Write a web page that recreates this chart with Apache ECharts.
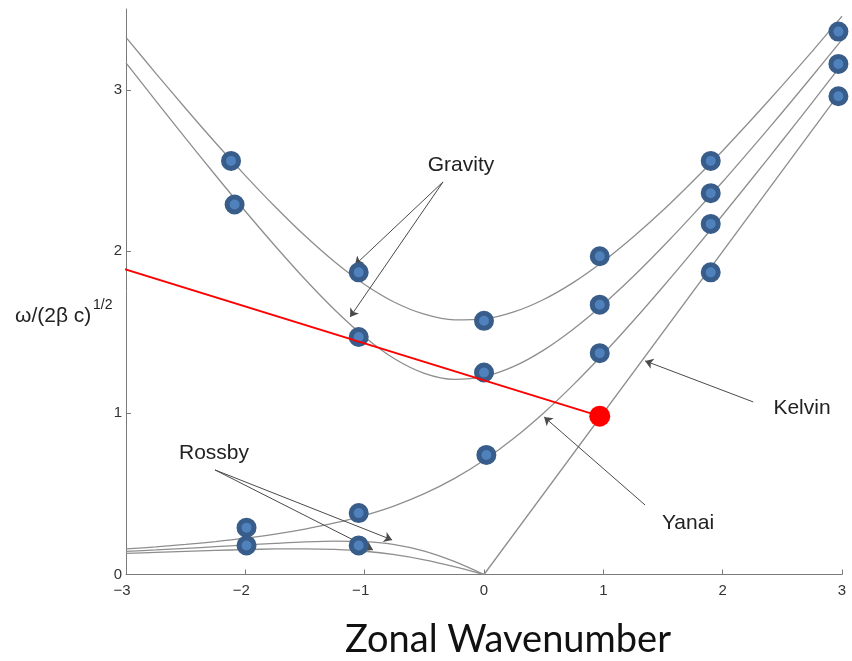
<!DOCTYPE html>
<html>
<head>
<meta charset="utf-8">
<script src="https://cdn.jsdelivr.net/npm/echarts@6/dist/echarts.min.js"></script>
<style>
  html, body { margin: 0; padding: 0; background: #ffffff; }
  #chart { width: 852px; height: 661px; }
</style>
</head>
<body>
<div id="chart"></div>
<script>
// Zonal wavenumber samples for the full curves and the westward (Rossby) branch
const kFull = [-3, -2.75, -2.5, -2.25, -2, -1.75, -1.5, -1.25, -1, -0.75, -0.5, -0.25,
               0, 0.25, 0.5, 0.75, 1, 1.25, 1.5, 1.75, 2, 2.25, 2.5, 2.75, 3];
const kWest = [-3, -2.75, -2.5, -2.25, -2, -1.75, -1.5, -1.25, -1, -0.75, -0.5, -0.25, 0];

// Frequency of each wave branch
const gravityN1 = [3.167, 2.931, 2.699, 2.471, 2.248, 2.033, 1.827, 1.637, 1.470, 1.335, 1.245, 1.208,
                   1.225, 1.288, 1.389, 1.520, 1.673, 1.844, 2.030, 2.226, 2.431, 2.644, 2.861, 3.084, 3.310];
const gravityN2 = [3.324, 3.102, 2.884, 2.672, 2.469, 2.276, 2.096, 1.934, 1.795, 1.685, 1.611, 1.576,
                   1.581, 1.625, 1.702, 1.808, 1.939, 2.089, 2.254, 2.434, 2.623, 2.822, 3.027, 3.238, 3.455];
const yanai     = [0.158, 0.171, 0.186, 0.204, 0.225, 0.250, 0.281, 0.319, 0.366, 0.425, 0.500, 0.593,
                   0.707, 0.843, 1.000, 1.175, 1.366, 1.569, 1.781, 2.000, 2.225, 2.454, 2.686, 2.921, 3.158];
const rossbyN1  = [0.143, 0.152, 0.162, 0.172, 0.183, 0.193, 0.202, 0.207, 0.203, 0.185, 0.145, 0.081, 0];
const rossbyN2  = [0.131, 0.137, 0.143, 0.149, 0.154, 0.158, 0.159, 0.155, 0.144, 0.123, 0.091, 0.049, 0];
const kelvinK   = [0, 3];
const kelvinW   = [0, 3];

// Highlighted sample points on the curves
const dotK = [-2.12, -2.09, -1.05, -1.05, -1.05, -1.05, -1.99, -1.99, 0.0, 0.0, 0.02,
              0.97, 0.97, 0.97, 1.90, 1.90, 1.90, 1.90, 2.97, 2.97, 2.97];
const dotW = [2.56, 2.29, 1.87, 1.47, 0.38, 0.18, 0.29, 0.18, 1.57, 1.25, 0.74,
              1.97, 1.67, 1.37, 2.56, 2.36, 2.17, 1.87, 3.36, 3.16, 2.96];

// Red marker and its leader line
const markK = [0.97];
const markW = [0.98];
const leaderK = [-4.06, 0.97];
const leaderW = [2.13, 0.98];

// Annotation arrows: [fromK, fromW, toK, toW]
const arrowGravity = [[-0.343, 2.430, -1.081, 1.916], [-0.343, 2.430, -1.122, 1.594]];
const arrowRossby  = [[-2.254, 0.647, -0.770, 0.214], [-2.254, 0.647, -0.930, 0.152]];
const arrowKelvin  = [[2.256, 1.068, 1.350, 1.322]];
const arrowYanai   = [[1.350, 0.430, 0.504, 0.975]];

const xTicks = [-3, -2, -1, 0, 1, 2, 3];
const yTicks = [0, 1, 2, 3];

const pairs = (xs, ys) => xs.map((x, i) => [x, ys[i]]);
const arrowData = [].concat(arrowGravity, arrowRossby, arrowKelvin, arrowYanai)
  .map(a => ({ coords: [[a[0], a[1]], [a[2], a[3]]] }));

const curveStyle = { color: '#8e8e8e', width: 1.3 };
const curve = (name, xs, ys) => ({
  name, type: 'line', data: pairs(xs, ys), smooth: 0.3, symbol: 'none',
  lineStyle: curveStyle, silent: true, z: 2
});

const chart = echarts.init(document.getElementById('chart'), null, { renderer: 'canvas' });
const labelFont = 'Liberation Sans, Arial, Helvetica, sans-serif';

chart.setOption({
  animation: false,
  backgroundColor: '#ffffff',
  grid: { left: 126, right: 10, top: 9, bottom: 86.5, containLabel: false, outerBoundsMode: 'none' },
  xAxis: {
    type: 'value', min: -3, max: 3, interval: 1,
    axisLine: { onZero: false, lineStyle: { color: '#7a7a7a', width: 1 } },
    axisTick: { inside: true, length: 5, lineStyle: { color: '#7a7a7a' }, customValues: xTicks },
    axisLabel: {
      customValues: xTicks, margin: 9, color: '#333', fontSize: 15, fontFamily: labelFont,
      // negative labels sit slightly left of their tick
      formatter: v => (v < 0 ? '{neg|\u2212' + Math.abs(v) + '}' : String(v)),
      rich: { neg: { fontSize: 15, fontFamily: labelFont, color: '#333', padding: [0, 8, 0, 0] } }
    },
    splitLine: { show: false }
  },
  yAxis: {
    type: 'value', min: 0, max: 3.5, interval: 1,
    axisLine: { onZero: false, lineStyle: { color: '#7a7a7a', width: 1 } },
    axisTick: { inside: true, length: 5, lineStyle: { color: '#7a7a7a' }, customValues: yTicks },
    axisLabel: { customValues: yTicks, margin: 4, color: '#333', fontSize: 15, fontFamily: labelFont },
    splitLine: { show: false }
  },
  series: [
    curve('Gravity n=2', kFull, gravityN2),
    curve('Gravity n=1', kFull, gravityN1),
    curve('Yanai', kFull, yanai),
    curve('Rossby n=1', kWest, rossbyN1),
    curve('Rossby n=2', kWest, rossbyN2),
    curve('Kelvin', kelvinK, kelvinW),
    {
      name: 'arrows', type: 'lines', coordinateSystem: 'cartesian2d',
      data: arrowData, symbol: ['none', 'arrow'], symbolSize: [0, 8],
      lineStyle: { color: '#4a4a4a', width: 1, opacity: 1 }, silent: true, z: 3
    },
    {
      name: 'points', type: 'scatter', data: pairs(dotK, dotW),
      symbol: 'circle', symbolSize: 15,
      itemStyle: { color: '#4f81bd', borderColor: '#385d8a', borderWidth: 5, opacity: 1 },
      silent: true, z: 5
    },
    {
      name: 'leader', type: 'line', data: pairs(leaderK, leaderW), symbol: 'none',
      clip: false, lineStyle: { color: '#ff0000', width: 2 }, silent: true, z: 6
    },
    {
      name: 'mark', type: 'scatter', data: pairs(markK, markW), symbol: 'circle', symbolSize: 21,
      itemStyle: { color: '#ff0000', opacity: 1 }, silent: true, z: 7
    }
  ],
  graphic: [
    { type: 'text', x: 15, y: 316,
      style: { text: '\u03c9/(2\u03b2 c)', font: '21px ' + labelFont, fill: '#222', verticalAlign: 'middle' } },
    { type: 'text', x: 93, y: 305,
      style: { text: '1/2', font: '14px ' + labelFont, fill: '#222', verticalAlign: 'middle' } },
    { type: 'text', x: 461, y: 165,
      style: { text: 'Gravity', font: '21px ' + labelFont, fill: '#222', align: 'center', verticalAlign: 'middle' } },
    { type: 'text', x: 802, y: 408,
      style: { text: 'Kelvin', font: '21px ' + labelFont, fill: '#222', align: 'center', verticalAlign: 'middle' } },
    { type: 'text', x: 688, y: 523,
      style: { text: 'Yanai', font: '21px ' + labelFont, fill: '#222', align: 'center', verticalAlign: 'middle' } },
    { type: 'text', x: 214, y: 453,
      style: { text: 'Rossby', font: '21px ' + labelFont, fill: '#222', align: 'center', verticalAlign: 'middle' } },
    { type: 'text', x: 508, y: 640,
      style: { text: 'Zonal Wavenumber', font: '38px Lato, "Open Sans", sans-serif', fill: '#111', align: 'center', verticalAlign: 'middle' } }
  ]
});
</script>
</body>
</html>
